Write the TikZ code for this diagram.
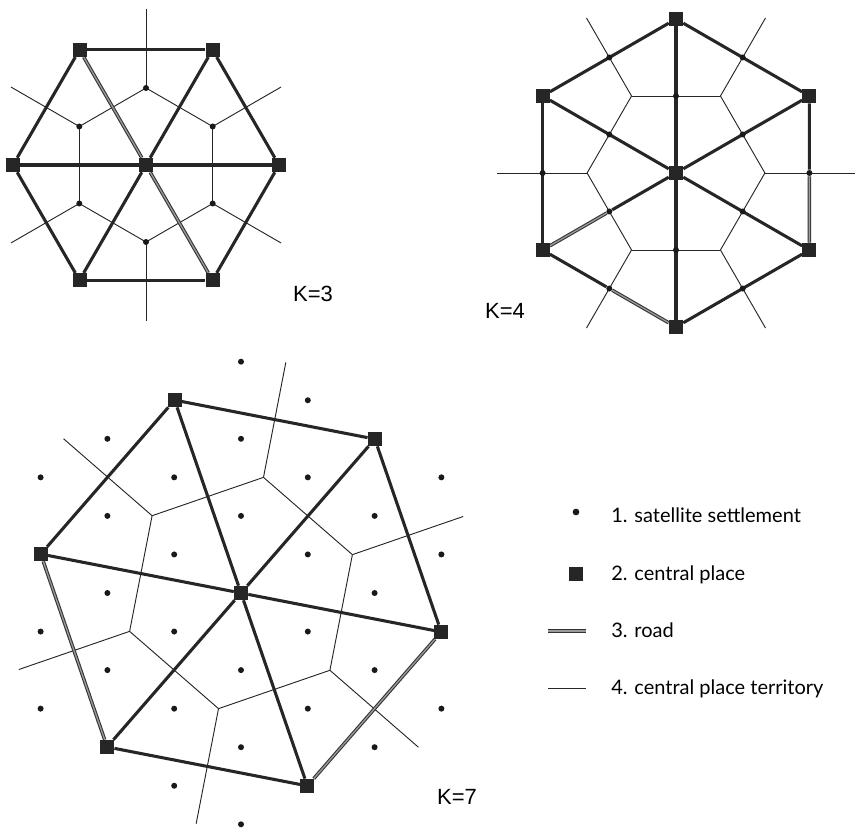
\documentclass[tikz,border=0pt]{standalone}
\usepackage{fontspec}
\setmainfont{Liberation Sans}
\newfontfamily\legfont{Lato}
\usetikzlibrary{backgrounds}
\begin{document}
\begin{tikzpicture}[x=0.75pt,y=-0.75pt,
  road/.style={line width=2.3pt, draw=black!85},
  roadd/.style={draw=black!80, line width=0.8pt, double=black!40, double distance=1.0pt},
  terr/.style={line width=0.7pt, draw=black!85},
  cplace/.style={rectangle, fill=black!85, minimum size=10.5pt, inner sep=0pt},
  sat/.style={circle, fill=black!90, minimum size=4.5pt, inner sep=0pt},
  klabel/.style={font=\fontsize{16.5}{18}\selectfont, inner sep=0pt},
  legtext/.style={font=\legfont\fontsize{15}{17}\selectfont, anchor=base west, inner sep=0pt}]
\useasboundingbox (0,0) rectangle (861,831);

% ---------------- K=3 ----------------
\coordinate (c3) at (146,165);
\node[cplace] (p3c) at (c3) {};
\foreach \k in {0,...,5} {
  \pgfmathsetmacro\a{60*\k}
  \pgfmathsetmacro\b{60*\k+30}
  \path (c3) ++(\a:133) node[cplace] (p3-\k) {};
  \path (c3) ++(\b:77) node[sat] (s3-\k) {};
  \path (c3) ++(\b:156) coordinate (r3-\k);
}
\begin{pgfonlayer}{background}
\foreach \k in {0,...,5} {
  \pgfmathtruncatemacro\kn{mod(\k+1,6)}
  \draw[terr] (s3-\k.center) -- (s3-\kn.center);
  \draw[terr] (s3-\k.center) -- (r3-\k);
  \draw[road] (p3-\k) -- (p3-\kn);
}
\foreach \k in {0,2,3,5} { \draw[road] (p3c) -- (p3-\k); }
\foreach \k in {1,4} { \draw[roadd] (p3c) -- (p3-\k); }
\end{pgfonlayer}
\node[klabel] (k3) at (313,294) {K=3};

% ---------------- K=4 ----------------
\coordinate (c4) at (676,173);
\node[cplace] (p4c) at (c4) {};
\foreach \k in {0,...,5} {
  \pgfmathsetmacro\a{60*\k+30}
  \pgfmathsetmacro\b{60*\k}
  \path (c4) ++(\a:154) node[cplace] (p4-\k) {};
  \path (c4) ++(\a:77) node[sat] (m4-\k) {};
  \path (c4) ++(\b:133.4) node[sat] (e4-\k) {};
  \path (c4) ++(\b:88.9) coordinate (t4-\k);
  \path (c4) ++(\b:179) coordinate (r4-\k);
}
\begin{pgfonlayer}{background}
\foreach \k in {0,...,5} {
  \pgfmathtruncatemacro\kn{mod(\k+1,6)}
  \draw[terr] (t4-\k) -- (t4-\kn);
  \draw[terr] (t4-\k) -- (r4-\k);
}
\foreach \k/\kn in {0/1,2/3,3/4,4/5} { \draw[road] (p4-\k) -- (p4-\kn); }
\draw[roadd] (p4-1) -- (e4-2);
\draw[road] (e4-2) -- (p4-2);
\draw[road] (p4-5) -- (e4-0);
\draw[roadd] (e4-0) -- (p4-0);
\foreach \k in {0,1,3,4,5} { \draw[road] (p4c) -- (p4-\k); }
\draw[road] (p4c) -- (m4-2);
\draw[roadd] (m4-2) -- (p4-2);
\end{pgfonlayer}
\node[klabel] (k4) at (505,311) {K=4};

% ---------------- K=7 ----------------
\coordinate (c7) at (241,593);
\node[cplace] (p7c) at (c7) {};
\foreach \k in {0,...,5} {
  \pgfmathsetmacro\a{60*\k+11}
  \pgfmathsetmacro\b{60*\k+41}
  \path (c7) ++(\a:204) node[cplace] (p7-\k) {};
  \path (c7) ++(\b:117.8) coordinate (t7-\k);
  \path (c7) ++(\b:235) coordinate (r7-\k);
}
\foreach \i/\j [count=\n] in {0/-3,1/-3,3/-3,0/-2,1/-2,2/-2,3/-2,
    -2/-1,-1/-1,0/-1,1/-1,2/-1,-3/0,-2/0,-1/0,1/0,2/0,3/0,
    -2/1,-1/1,0/1,1/1,2/1,-3/2,-2/2,-1/2,0/2,-3/3,-1/3,0/3} {
  \node[sat] (s7-\n) at ({241+66.8*\j},{593-77.1*\i-38.55*\j}) {};
}
\begin{pgfonlayer}{background}
\foreach \k in {0,...,5} {
  \pgfmathtruncatemacro\kn{mod(\k+1,6)}
  \draw[terr] (t7-\k) -- (t7-\kn);
  \draw[terr] (t7-\k) -- (r7-\k);
  \draw[road] (p7c) -- (p7-\k);
}
\foreach \k/\kn in {1/2,3/4,4/5,5/0} { \draw[road] (p7-\k) -- (p7-\kn); }
\draw[roadd] (p7-0) -- (p7-1);
\draw[roadd] (p7-2) -- (p7-3);
\end{pgfonlayer}
\node[klabel] (k7) at (457,797) {K=7};

% ---------------- legend ----------------
\node[sat, minimum size=5pt] (lsat) at (576,512) {};
\node[cplace] (lcp) at (576,574) {};
\coordinate (lr1) at (548,631);
\coordinate (lr2) at (586,631);
\draw[roadd] (lr1) -- (lr2);
\coordinate (lt1) at (548,688);
\coordinate (lt2) at (586,688);
\draw[terr] (lt1) -- (lt2);
\node[legtext] (l1) at (611,522) {1. satellite settlement};
\node[legtext] (l2) at (611,580) {2. central place};
\node[legtext] (l3) at (611,637) {3. road};
\node[legtext] (l4) at (611,694) {4. central place territory};
\end{tikzpicture}
\end{document}
